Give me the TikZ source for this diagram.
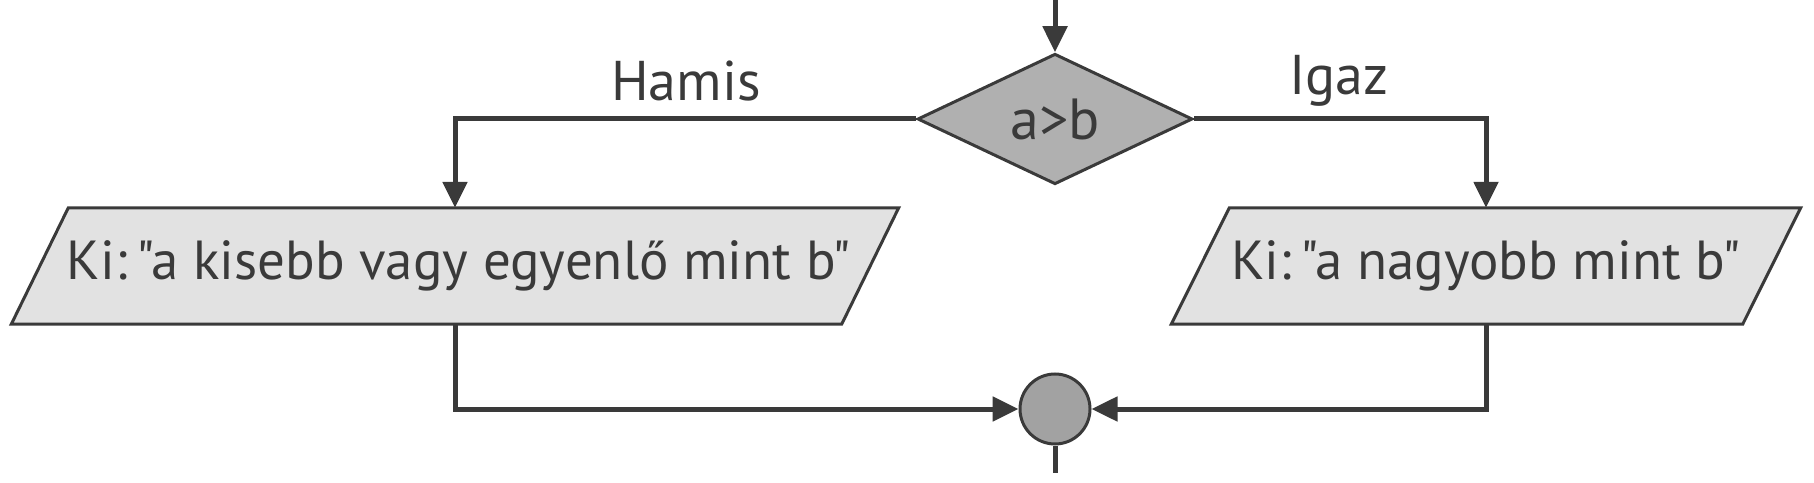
\documentclass[tikz,border=0pt]{standalone}
\usepackage{fontspec}
\newfontfamily\ptfont{PT Sans}
\usetikzlibrary{shapes.geometric,arrows.meta,calc,backgrounds}
\definecolor{ln}{HTML}{3A3A3A}
\definecolor{dfill}{HTML}{B0B0B0}
\definecolor{pfill}{HTML}{E2E2E2}
\definecolor{cfill}{HTML}{A2A2A2}
\begin{document}
\begin{tikzpicture}[x=1pt,y=1pt,
  conn/.style={draw=ln,line width=5pt,-{Triangle[length=26pt,width=24pt]}},
  plainline/.style={draw=ln,line width=5pt},
  dec/.style={diamond,draw=ln,line width=3pt,fill=dfill,minimum width=275pt,minimum height=126pt,inner sep=0pt,font=\ptfont\fontsize{58}{60}\selectfont,text=ln},
  iobox/.style={rectangle,inner sep=0pt,minimum height=116pt},
  iotext/.style={inner sep=0pt,font=\ptfont\fontsize{55}{60}\selectfont,text=ln},
  iofill/.style={draw=ln,line width=3pt,fill=pfill,line join=miter},
  merge/.style={circle,draw=ln,line width=3pt,fill=cfill,minimum size=70pt,inner sep=0pt},
  lbl/.style={font=\ptfont\fontsize{56}{60}\selectfont,text=ln}]
\useasboundingbox (0,0) rectangle (1814,482);
\node[dec] (d) at (1055,363) {a>b};
\coordinate (top) at (1055,482);
\draw[conn] (top) -- (d.north);
\node[iobox,minimum width=830pt] (pl) at (455,216) {};
\node[iobox,minimum width=571pt] (pr) at (1486,216) {};
\node[iotext] (plt) at ([xshift=4pt]pl.center) {Ki:\,"a kisebb vagy egyenlő mint b"};
\node[iotext] (prt) at (pr.center) {Ki:\,"a nagyobb mint b"};
\begin{scope}[on background layer]
  \draw[iofill] ($(pl.north west)+(28.5,0)$) -- ($(pl.north east)+(28.5,0)$) -- ($(pl.south east)+(-28.5,0)$) -- ($(pl.south west)+(-28.5,0)$) -- cycle;
  \draw[iofill] ($(pr.north west)+(29,0)$) -- ($(pr.north east)+(29,0)$) -- ($(pr.south east)+(-29,0)$) -- ($(pr.south west)+(-29,0)$) -- cycle;
\end{scope}
\node[merge] (m) at (1055,73) {};
\coordinate (bot) at (1055,9);
\node[lbl] (hamis) at (686,401) {Hamis};
\node[lbl] (igaz) at (1339,401) {Igaz};
\draw[conn] (d.west) -| (pl.north);
\draw[conn] (d.east) -| (pr.north);
\draw[conn] (pl.south) |- (m.west);
\draw[conn] (pr.south) |- (m.east);
\draw[plainline] (m.south) -- (bot);
\end{tikzpicture}
\end{document}
